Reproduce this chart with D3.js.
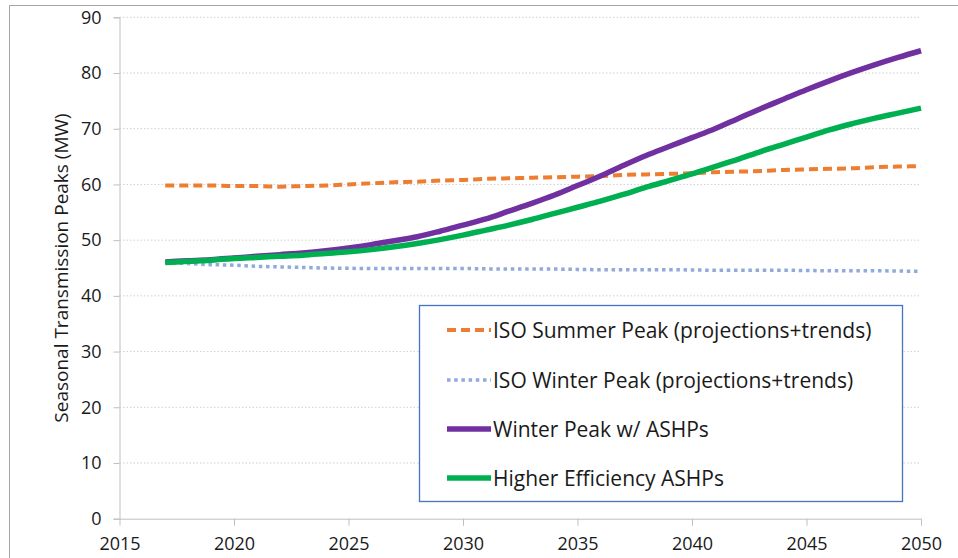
<!DOCTYPE html>
<html>
<head>
<meta charset="utf-8">
<script src="https://cdn.jsdelivr.net/npm/d3@7"></script>
<style>
  body { margin: 0; background: #fff; }
  text { font-family: "Open Sans", Lato, sans-serif; fill: #1a1a1a; }
</style>
</head>
<body>
<div id="viz"></div>
<script>
var years = d3.range(2017, 2051);

var summerPeak = [59.8, 59.8, 59.8, 59.7, 59.7, 59.6, 59.7, 59.8, 60.0, 60.2,
  60.4, 60.5, 60.7, 60.8, 61.0, 61.1, 61.2, 61.3, 61.4, 61.5,
  61.7, 61.8, 61.9, 62.0, 62.2, 62.3, 62.4, 62.6, 62.7, 62.8,
  62.9, 63.1, 63.2, 63.3];

var winterPeak = [46.0, 45.8, 45.6, 45.5, 45.3, 45.2, 45.1, 45.0, 44.95, 44.9,
  44.9, 44.9, 44.9, 44.9, 44.85, 44.8, 44.8, 44.8, 44.75, 44.7,
  44.7, 44.7, 44.7, 44.65, 44.6, 44.6, 44.6, 44.6, 44.55, 44.5,
  44.5, 44.5, 44.45, 44.4];

var winterAshp = [46.1, 46.3, 46.5, 46.8, 47.1, 47.4, 47.7, 48.1, 48.6, 49.2,
  49.9, 50.6, 51.6, 52.7, 53.8, 55.2, 56.6, 58.1, 59.8, 61.5,
  63.4, 65.2, 66.8, 68.4, 70.0, 71.8, 73.6, 75.3, 77.0, 78.6,
  80.1, 81.5, 82.8, 84.0];

var highEffAshp = [46.0, 46.2, 46.4, 46.7, 46.9, 47.1, 47.3, 47.6, 47.9, 48.3,
  48.8, 49.4, 50.1, 50.9, 51.8, 52.7, 53.7, 54.8, 55.9, 57.0,
  58.2, 59.5, 60.7, 61.9, 63.2, 64.5, 65.9, 67.2, 68.5, 69.8,
  70.9, 71.9, 72.8, 73.7];

var seriesNames = ['ISO Summer Peak (projections+trends)', 'ISO Winter Peak (projections+trends)',
  'Winter Peak w/ ASHPs', 'Higher Efficiency ASHPs'];
var xTicks = [2015, 2020, 2025, 2030, 2035, 2040, 2045, 2050];
var yTicks = [0, 10, 20, 30, 40, 50, 60, 70, 80, 90];

var width = 958, height = 558,
    margin = {top: 17.3, right: 37, bottom: 39.3, left: 119.5};

var series = [
  {name: seriesNames[0], values: summerPeak, color: '#ED7D31', w: 4, dash: '9,5'},
  {name: seriesNames[1], values: winterPeak, color: '#8FAADC', w: 3.5, dash: '3.5,3.7'},
  {name: seriesNames[2], values: winterAshp, color: '#7030A0', w: 5.5, dash: null},
  {name: seriesNames[3], values: highEffAshp, color: '#00B050', w: 5.5, dash: null}
];

var svg = d3.select('#viz').append('svg')
  .attr('width', width)
  .attr('height', height);

// outer chart border (cut off at right and bottom like the source)
svg.append('rect')
  .attr('x', 9.5).attr('y', 5.5)
  .attr('width', 1000).attr('height', 1000)
  .attr('fill', 'none')
  .attr('stroke', '#a6a6a6');

var xScale = d3.scaleLinear()
  .domain([2015, 2050])
  .range([margin.left, width - margin.right]);

var yScale = d3.scaleLinear()
  .domain([0, 90])
  .range([height - margin.bottom, margin.top]);

// gridlines
svg.append('g')
  .selectAll('line').data(yTicks.slice(1))
  .enter().append('line')
    .attr('x1', xScale(2015)).attr('x2', xScale(2050))
    .attr('y1', function(d) { return yScale(d); })
    .attr('y2', function(d) { return yScale(d); })
    .attr('stroke', '#cfcfcf')
    .attr('stroke-dasharray', '1.5,2');

var yAxis = d3.axisLeft(yScale).tickValues(yTicks).tickSize(6).tickPadding(12);
var yGuide = svg.append('g')
  .attr('transform', 'translate(' + margin.left + ',0)')
  .call(yAxis);
yGuide.selectAll('.domain, line').attr('stroke', '#bfbfbf');
yGuide.selectAll('text').style('font-size', '18px').attr('fill', '#1a1a1a');

var xAxis = d3.axisBottom(xScale).tickValues(xTicks).tickFormat(d3.format('d'))
  .tickSize(7).tickPadding(12).tickSizeOuter(0);
var xGuide = svg.append('g')
  .attr('transform', 'translate(0,' + yScale(0) + ')')
  .call(xAxis);
xGuide.selectAll('.domain, line').attr('stroke', '#bfbfbf');
xGuide.selectAll('text').style('font-size', '18px').attr('fill', '#1a1a1a');

svg.append('text')
  .attr('transform', 'translate(68,' + ((yScale(0) + yScale(90)) / 2) + ') rotate(-90)')
  .attr('text-anchor', 'middle')
  .style('font-size', '19px')
  .text('Seasonal Transmission Peaks (MW)');

var line = d3.line()
  .x(function(d, i) { return xScale(years[i]); })
  .y(function(d) { return yScale(d); })
  .curve(d3.curveMonotoneX);

svg.append('g')
  .selectAll('path').data(series)
  .enter().append('path')
    .attr('d', function(s) { return line(s.values); })
    .attr('fill', 'none')
    .attr('stroke', function(s) { return s.color; })
    .attr('stroke-width', function(s) { return s.w; })
    .attr('stroke-dasharray', function(s) { return s.dash; });

// legend
var legend = svg.append('g');
legend.append('rect')
  .attr('x', 419.5).attr('y', 305.5)
  .attr('width', 483).attr('height', 196)
  .attr('fill', '#fff')
  .attr('stroke', '#4472C4')
  .attr('stroke-width', 1.3);

var rowY = [330, 380, 429, 478];
var item = legend.selectAll('g.item').data(series)
  .enter().append('g')
    .attr('class', 'item')
    .attr('transform', function(s, i) { return 'translate(0,' + rowY[i] + ')'; });

item.append('line')
  .attr('x1', 447).attr('x2', 491)
  .attr('stroke', function(s) { return s.color; })
  .attr('stroke-width', function(s) { return s.w; })
  .attr('stroke-dasharray', function(s) { return s.dash; });

item.append('text')
  .attr('x', 493)
  .attr('dy', '0.36em')
  .style('font-size', '21px')
  .text(function(s) { return s.name; });
</script>
</body>
</html>
